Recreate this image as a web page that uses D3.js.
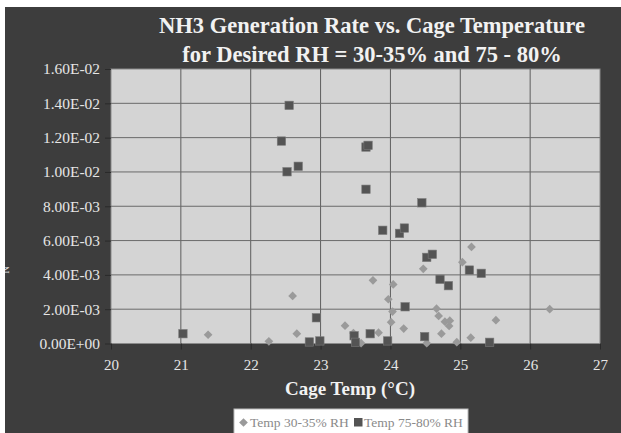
<!DOCTYPE html>
<html><head><meta charset="utf-8">
<script src="https://cdn.jsdelivr.net/npm/d3@7"></script>
<style>html,body{margin:0;padding:0;background:#fff;}svg{display:block;}</style>
</head><body>
<script>
const titleLines = ["NH3 Generation Rate vs. Cage Temperature", "for Desired RH = 30-35% and 75 - 80%"];
const xTicks = [20, 21, 22, 23, 24, 25, 26, 27];
const yTicks = [0, 0.002, 0.004, 0.006, 0.008, 0.010, 0.012, 0.014, 0.016];
const yTickLabels = ["0.00E+00","2.00E-03","4.00E-03","6.00E-03","8.00E-03","1.00E-02","1.20E-02","1.40E-02","1.60E-02"];
const seriesNames = ["Temp 30-35% RH", "Temp 75-80% RH"];
// Series 1 (30-35% RH): temperature (°C), NH3 rate (x1e-3)
const lowT = [21.39,22.26,22.60,22.66,23.35,23.47,23.58,23.75,23.83,23.97,24.01,24.03,24.04,24.19,24.47,24.52,24.66,24.69,24.73,24.78,24.84,24.85,24.95,25.03,25.15,25.16,25.51,26.28];
const lowR = [0.51,0.13,2.77,0.57,1.04,0.61,0.02,3.68,0.63,2.58,1.24,1.86,3.44,0.87,4.35,0.02,2.03,1.61,0.57,1.27,1.02,1.33,0.08,4.74,0.34,5.63,1.36,2.00];
// Series 2 (75-80% RH)
const highT = [21.03,22.44,22.52,22.55,22.68,22.84,22.94,22.99,23.48,23.50,23.65,23.65,23.68,23.71,23.89,23.96,24.13,24.20,24.21,24.45,24.49,24.52,24.60,24.71,24.83,25.13,25.30,25.42];
const highR = [0.57,11.80,10.01,13.88,10.33,0.09,1.50,0.15,0.45,0.07,8.99,11.45,11.55,0.57,6.60,0.15,6.42,6.73,2.14,8.20,0.40,5.02,5.20,3.74,3.37,4.28,4.09,0.07];

const W = 621, H = 433;
const svg = d3.select("body").append("svg").attr("width", W).attr("height", H);
const font = "'Liberation Serif','Times New Roman',serif";

svg.append("rect").attr("x", 5).attr("y", 7).attr("width", W - 5).attr("height", H - 7).attr("fill", "#3d3d3d");

const L = 111, R = 600, T = 69, B = 343.5;
const x = d3.scaleLinear().domain([20, 27]).range([L, R]);
const y = d3.scaleLinear().domain([0, 0.016]).range([B, T]);

svg.append("rect").attr("x", L).attr("y", T).attr("width", R - L).attr("height", B - T)
  .attr("fill", "#d4d4d4").attr("stroke", "#8a8a8a").attr("stroke-width", 1);

const g = svg.append("g");
g.selectAll(".vg").data(xTicks.slice(1, -1)).enter().append("line")
  .attr("x1", d => x(d)).attr("x2", d => x(d)).attr("y1", T).attr("y2", B)
  .attr("stroke", "#5e5e5e").attr("stroke-width", 1);
g.selectAll(".hg").data(yTicks.slice(1, -1)).enter().append("line")
  .attr("x1", L).attr("x2", R).attr("y1", d => y(d)).attr("y2", d => y(d))
  .attr("stroke", "#6a6a6a").attr("stroke-width", 1);

const xAxis = d3.axisBottom(x).tickValues(xTicks).tickSize(6).tickPadding(10).tickFormat(d3.format("d"));
const xg = svg.append("g").attr("transform", `translate(0,${B})`).call(xAxis);
const yAxis = d3.axisLeft(y).tickValues(yTicks).tickSize(6).tickPadding(5).tickFormat((d, i) => yTickLabels[i]);
const yg = svg.append("g").attr("transform", `translate(${L},0)`).call(yAxis);
[xg, yg].forEach(a => {
  a.attr("font-family", null).attr("font-size", null);
  a.selectAll(".tick line").attr("stroke", "#2a2a2a");
  a.selectAll("text").attr("fill", "#e6e6e6").style("font-family", font).style("font-size", "15px");
});
xg.select(".domain").remove();
yg.select(".domain").remove();
// stretch y labels so that "1.60E-02" is about 57px wide, as in the reference
const yTexts = yg.selectAll(".tick text");
const refNode = yTexts.nodes()[yTexts.size() - 1];
const k = 57 / refNode.getComputedTextLength();
yTexts.each(function() {
  const w = this.getComputedTextLength();
  d3.select(this).attr("textLength", w * k).attr("lengthAdjust", "spacingAndGlyphs");
});

const lowData = lowT.map((t, i) => ({t, r: lowR[i] / 1000}));
const highData = highT.map((t, i) => ({t, r: highR[i] / 1000}));
const diamond = d3.symbol().type(d3.symbolSquare).size(38);
svg.append("g").selectAll("path").data(lowData).enter().append("path")
  .attr("d", diamond)
  .attr("transform", d => `translate(${x(d.t)},${y(d.r)}) rotate(45)`)
  .attr("fill", "#9a9a9a");
svg.append("g").selectAll("rect").data(highData).enter().append("rect")
  .attr("x", d => x(d.t) - 4.2).attr("y", d => y(d.r) - 4.2)
  .attr("width", 8.4).attr("height", 8.4)
  .attr("fill", "#545454").attr("stroke", "#7a7a7a").attr("stroke-width", 0.6);

svg.append("g").selectAll("text").data(titleLines).enter().append("text")
  .attr("x", 372).attr("y", (d, i) => 33 + i * 29)
  .attr("text-anchor", "middle").attr("fill", "#f2f2f2")
  .style("font-family", font).style("font-weight", "bold").style("font-size", "22.5px")
  .text(d => d);

svg.append("text").attr("x", 350).attr("y", 395).attr("text-anchor", "middle")
  .attr("fill", "#f2f2f2").style("font-family", font).style("font-weight", "bold").style("font-size", "19px")
  .text("Cage Temp (°C)");

svg.append("text").attr("transform", "translate(9,270) rotate(-90)").attr("text-anchor", "middle")
  .attr("fill", "#e6e6e6").style("font-family", font).style("font-size", "10px").text("N");
svg.append("rect").attr("x", 0).attr("y", 0).attr("width", 5).attr("height", H).attr("fill", "#fff");

const lg = svg.append("g");
lg.append("rect").attr("x", 234).attr("y", 409).attr("width", 234).attr("height", 30)
  .attr("fill", "#ffffff").attr("stroke", "#bbbbbb");
lg.append("path").attr("d", diamond).attr("transform", "translate(243.5,422.5) rotate(45)").attr("fill", "#9a9a9a");
lg.append("text").attr("x", 250).attr("y", 427).attr("fill", "#8a8a8a")
  .style("font-family", font).style("font-size", "13.5px").text(seriesNames[0]);
lg.append("rect").attr("x", 354).attr("y", 418).attr("width", 8.5).attr("height", 8.5).attr("fill", "#545454");
lg.append("text").attr("x", 364).attr("y", 427).attr("fill", "#8a8a8a")
  .style("font-family", font).style("font-size", "13.5px").text(seriesNames[1]);
</script>
</body></html>
